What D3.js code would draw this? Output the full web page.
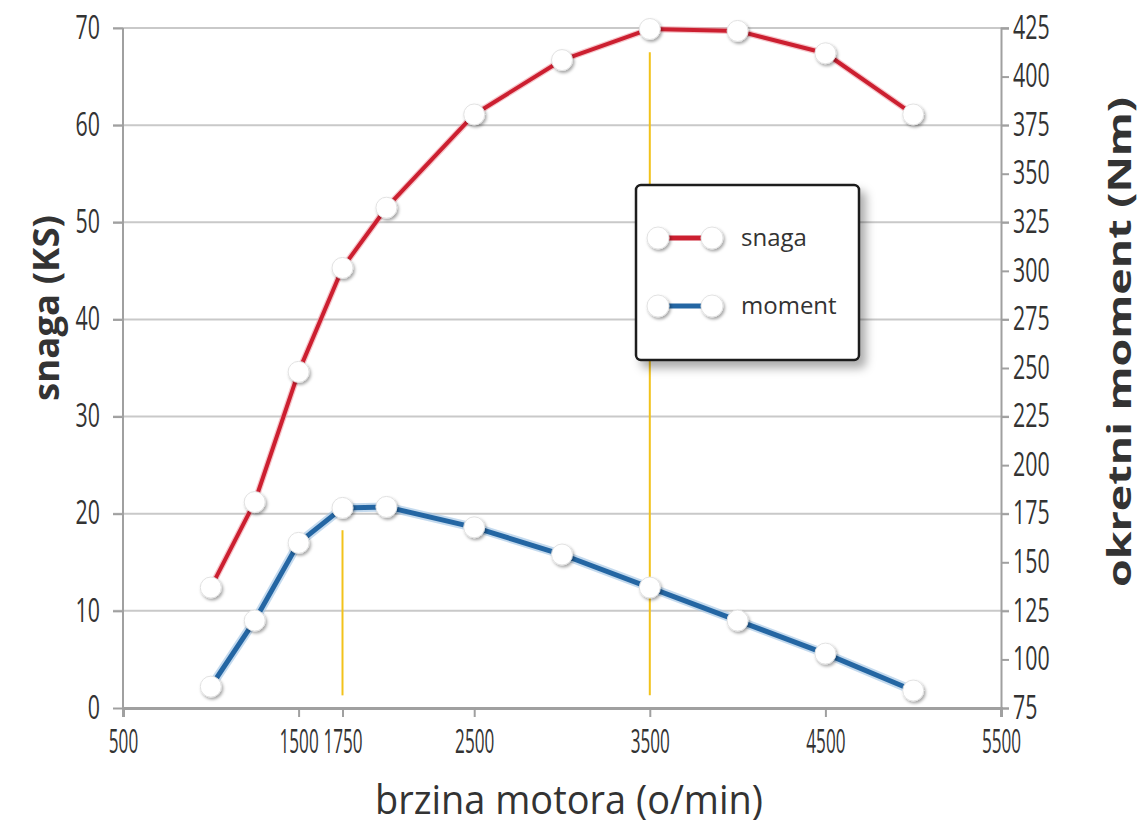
<!DOCTYPE html>
<html>
<head>
<meta charset="utf-8">
<script src="https://cdn.jsdelivr.net/npm/d3@7/dist/d3.min.js"></script>
<style>
  html, body { margin: 0; padding: 0; background: #fff; }
  svg { display: block; }
  .tick text { font-family: "Open Sans", "DejaVu Sans", sans-serif; fill: #333; }
  .title { font-family: "Open Sans", "DejaVu Sans", sans-serif; fill: #333; }
</style>
</head>
<body>
<div id="chart"></div>
<script>
'use strict';

// data
var rpm = [1000, 1250, 1500, 1750, 2000, 2500, 3000, 3500, 4000, 4500, 5000],
    snaga = [12.4, 21.2, 34.6, 45.3, 51.5, 61.1, 66.7, 69.9, 69.7, 67.4, 61.1],
    moment = [86, 120, 160, 178, 178.5, 168, 154, 137, 120, 103, 84];

var xTicks = [500, 1500, 1750, 2500, 3500, 4500, 5500],
    leftTicks = [0, 10, 20, 30, 40, 50, 60, 70],
    rightTicks = [75, 100, 125, 150, 175, 200, 225, 250, 275, 300, 325, 350, 375, 400, 425],
    markerLines = [{rpm: 1750, from: 1.3, to: 18.3}, {rpm: 3500, from: 1.3, to: 67.5}];

var seriesNames = ['snaga', 'moment'],
    seriesColors = ['#cc1f30', '#2466a3'];

var W = 1142, H = 828,
    pLeft = 123, pRight = 1001, pTop = 28, pBottom = 708;

var svg = d3.select('#chart').append('svg')
    .attr('width', W)
    .attr('height', H);

var defs = svg.append('defs');
var f1 = defs.append('filter').attr('id', 'dot-shadow')
    .attr('x', '-50%').attr('y', '-50%').attr('width', '200%').attr('height', '200%');
f1.append('feDropShadow').attr('dx', 1.5).attr('dy', 2).attr('stdDeviation', 1.5)
    .attr('flood-color', '#000').attr('flood-opacity', 0.35);
var f2 = defs.append('filter').attr('id', 'box-shadow')
    .attr('x', '-20%').attr('y', '-20%').attr('width', '150%').attr('height', '150%');
f2.append('feDropShadow').attr('dx', 6).attr('dy', 7).attr('stdDeviation', 5)
    .attr('flood-color', '#000').attr('flood-opacity', 0.32);

// scales
var x = d3.scaleLinear().domain([500, 5500]).range([pLeft, pRight]),
    yL = d3.scaleLinear().domain([0, 70]).range([pBottom, pTop]),
    yR = d3.scaleLinear().domain([75, 425]).range([pBottom, pTop]);

// grid
svg.append('g').selectAll('line').data(leftTicks.slice(1)).enter().append('line')
    .attr('x1', pLeft - 10).attr('x2', pRight + 8)
    .attr('y1', function(d){ return yL(d); })
    .attr('y2', function(d){ return yL(d); })
    .style('stroke', '#c9c9c9')
    .style('stroke-width', 2);

// axes
function styleAxis(g, digitW){
    g.select('.domain').style('stroke', '#a0a0a0').style('stroke-width', 2);
    g.selectAll('.tick line').style('stroke', '#a0a0a0').style('stroke-width', 2);
    // narrow tick font like the original
    g.selectAll('.tick text')
        .style('font-size', '32px')
        .attr('textLength', function(){ return this.textContent.length * digitW; })
        .attr('lengthAdjust', 'spacingAndGlyphs');
}

var gLeft = svg.append('g')
    .attr('transform', 'translate(' + pLeft + ',0)')
    .call(d3.axisLeft(yL).tickValues(leftTicks).tickSizeOuter(0).tickSize(10).tickPadding(13));
styleAxis(gLeft, 12.2);
gLeft.select('.domain').remove();
gLeft.append('line').attr('x1', 0).attr('x2', 0).attr('y1', pTop).attr('y2', pBottom)
    .style('stroke', '#a0a0a0').style('stroke-width', 2);

var gRight = svg.append('g')
    .attr('transform', 'translate(' + pRight + ',0)')
    .call(d3.axisRight(yR).tickValues(rightTicks).tickSizeOuter(0).tickSize(8).tickPadding(4));
styleAxis(gRight, 12.2);

var gBottom = svg.append('g')
    .attr('transform', 'translate(0,' + pBottom + ')')
    .call(d3.axisBottom(x).tickValues(xTicks).tickFormat(d3.format('d')).tickSizeOuter(0).tickSize(9).tickPadding(13));
styleAxis(gBottom, 9.8);
gBottom.select('.domain').style('stroke-width', 3);

// yellow marker lines
svg.append('g').selectAll('line').data(markerLines).enter().append('line')
    .attr('x1', function(d){ return x(d.rpm); })
    .attr('x2', function(d){ return x(d.rpm); })
    .attr('y1', function(d){ return yL(d.to); })
    .attr('y2', function(d){ return yL(d.from); })
    .style('stroke', '#f2c21b')
    .style('stroke-width', 2);

// series
var pts = [
    rpm.map(function(r, i){ return [x(r), yL(snaga[i])]; }),
    rpm.map(function(r, i){ return [x(r), yR(moment[i])]; })
];
var line = d3.line();

pts.forEach(function(p, i){
    var g = svg.append('g');
    g.append('path').attr('d', line(p))
        .style('fill', 'none')
        .style('stroke', i === 0 ? '#f0a0a8' : '#9cc1e2')
        .style('stroke-width', i === 0 ? 6.5 : 9)
        .style('stroke-opacity', 0.6)
        .style('stroke-linejoin', 'round');
    g.append('path').attr('d', line(p))
        .style('fill', 'none')
        .style('stroke', seriesColors[i])
        .style('stroke-width', i === 0 ? 4 : 5)
        .style('stroke-linejoin', 'round');
    g.selectAll('circle').data(p).enter().append('circle')
        .attr('cx', function(d){ return d[0]; })
        .attr('cy', function(d){ return d[1]; })
        .attr('r', 10.5)
        .attr('filter', 'url(#dot-shadow)')
        .style('fill', '#fff')
        .style('stroke', '#e2e2e2')
        .style('stroke-width', 1);
});

// legend
var legend = svg.append('g').attr('transform', 'translate(636,185)');
legend.append('rect')
    .attr('width', 223).attr('height', 175)
    .attr('rx', 5).attr('ry', 5)
    .attr('filter', 'url(#box-shadow)')
    .style('fill', '#fff')
    .style('stroke', '#1a1a1a')
    .style('stroke-width', 2.5);

seriesNames.forEach(function(name, i){
    var ly = 53 + i * 68;
    var item = legend.append('g').attr('transform', 'translate(0,' + ly + ')');
    item.append('line').attr('x1', 22).attr('x2', 76).attr('y1', 0).attr('y2', 0)
        .style('stroke', seriesColors[i]).style('stroke-width', 5);
    item.selectAll('circle').data([22, 76]).enter().append('circle')
        .attr('cx', function(d){ return d; })
        .attr('cy', 0)
        .attr('r', 11)
        .attr('filter', 'url(#dot-shadow)')
        .style('fill', '#fff')
        .style('stroke', '#e2e2e2');
    item.append('text')
        .attr('class', 'title')
        .attr('x', 105).attr('y', 8)
        .style('font-size', '24px')
        .text(name);
});

// titles
svg.append('text').attr('class', 'title')
    .attr('transform', 'translate(59,308) rotate(-90)')
    .attr('text-anchor', 'middle')
    .style('font-size', '36px').style('font-weight', 'bold')
    .attr('textLength', 186).attr('lengthAdjust', 'spacingAndGlyphs')
    .text('snaga (KS)');

svg.append('text').attr('class', 'title')
    .attr('transform', 'translate(1131,342) rotate(-90)')
    .attr('text-anchor', 'middle')
    .style('font-size', '33px').style('font-weight', 'bold')
    .attr('textLength', 490).attr('lengthAdjust', 'spacingAndGlyphs')
    .text('okretni moment (Nm)');

svg.append('text').attr('class', 'title')
    .attr('x', 569).attr('y', 814)
    .attr('text-anchor', 'middle')
    .style('font-size', '41px')
    .attr('textLength', 388).attr('lengthAdjust', 'spacingAndGlyphs')
    .text('brzina motora (o/min)');
</script>
</body>
</html>
